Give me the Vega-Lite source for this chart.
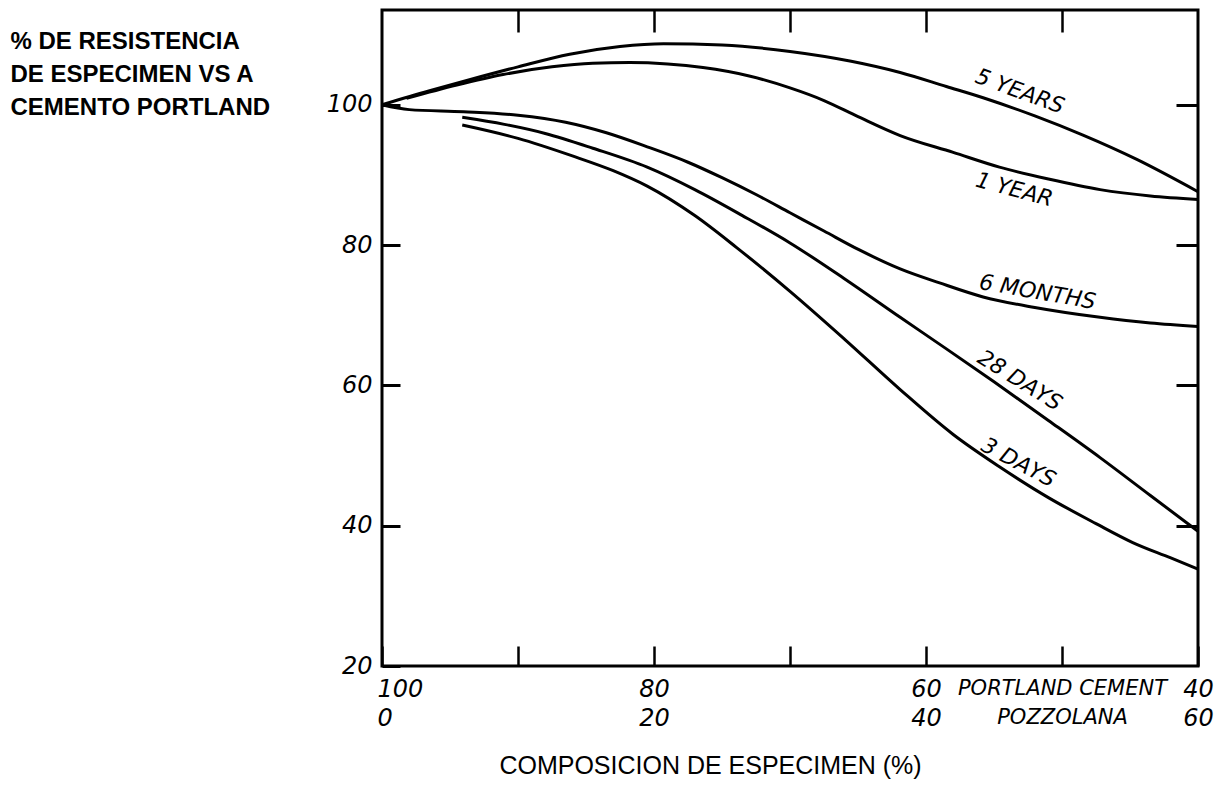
{
  "$schema": "https://vega.github.io/schema/vega-lite/v6.json",
  "width": 816,
  "height": 656,
  "autosize": "none",
  "padding": {"left": 382, "top": 10, "right": 30, "bottom": 126},
  "background": "white",
  "config": {"view": {"stroke": "black", "strokeWidth": 3}, "font": "DejaVu Sans"},
  "datasets": {
    "curves": [
      {"series": "5 YEARS", "cement": 100, "strength": 100},
      {"series": "5 YEARS", "cement": 96.5, "strength": 102.0},
      {"series": "5 YEARS", "cement": 93.5, "strength": 103.6},
      {"series": "5 YEARS", "cement": 90, "strength": 105.4},
      {"series": "5 YEARS", "cement": 86.2, "strength": 107.2},
      {"series": "5 YEARS", "cement": 82.5, "strength": 108.3},
      {"series": "5 YEARS", "cement": 79.3, "strength": 108.7},
      {"series": "5 YEARS", "cement": 75, "strength": 108.5},
      {"series": "5 YEARS", "cement": 70, "strength": 107.6},
      {"series": "5 YEARS", "cement": 65.5, "strength": 106.2},
      {"series": "5 YEARS", "cement": 61.9, "strength": 104.6},
      {"series": "5 YEARS", "cement": 58.5, "strength": 102.6},
      {"series": "5 YEARS", "cement": 55.8, "strength": 101.0},
      {"series": "5 YEARS", "cement": 52, "strength": 98.4},
      {"series": "5 YEARS", "cement": 48.5, "strength": 95.7},
      {"series": "5 YEARS", "cement": 44.5, "strength": 92.2},
      {"series": "5 YEARS", "cement": 40, "strength": 87.6},
      {"series": "1 YEAR", "cement": 98.2, "strength": 100.9},
      {"series": "1 YEAR", "cement": 94.5, "strength": 102.8},
      {"series": "1 YEAR", "cement": 91.1, "strength": 104.3},
      {"series": "1 YEAR", "cement": 87.5, "strength": 105.4},
      {"series": "1 YEAR", "cement": 84.5, "strength": 105.9},
      {"series": "1 YEAR", "cement": 81.8, "strength": 106.0},
      {"series": "1 YEAR", "cement": 79, "strength": 105.8},
      {"series": "1 YEAR", "cement": 76.4, "strength": 105.3},
      {"series": "1 YEAR", "cement": 73, "strength": 104.1},
      {"series": "1 YEAR", "cement": 70, "strength": 102.4},
      {"series": "1 YEAR", "cement": 67.5, "strength": 100.6},
      {"series": "1 YEAR", "cement": 65, "strength": 98.3},
      {"series": "1 YEAR", "cement": 61.9, "strength": 95.6},
      {"series": "1 YEAR", "cement": 58, "strength": 93.2},
      {"series": "1 YEAR", "cement": 54.6, "strength": 91.1},
      {"series": "1 YEAR", "cement": 51, "strength": 89.4},
      {"series": "1 YEAR", "cement": 47.2, "strength": 87.9},
      {"series": "1 YEAR", "cement": 43.5, "strength": 87.0},
      {"series": "1 YEAR", "cement": 40, "strength": 86.5},
      {"series": "6 MONTHS", "cement": 100, "strength": 100},
      {"series": "6 MONTHS", "cement": 98, "strength": 99.3},
      {"series": "6 MONTHS", "cement": 94, "strength": 99.0},
      {"series": "6 MONTHS", "cement": 90, "strength": 98.5},
      {"series": "6 MONTHS", "cement": 86.5, "strength": 97.5},
      {"series": "6 MONTHS", "cement": 83.5, "strength": 96.0},
      {"series": "6 MONTHS", "cement": 80.5, "strength": 94.0},
      {"series": "6 MONTHS", "cement": 77.5, "strength": 91.8},
      {"series": "6 MONTHS", "cement": 75, "strength": 89.6},
      {"series": "6 MONTHS", "cement": 72.5, "strength": 87.2},
      {"series": "6 MONTHS", "cement": 70, "strength": 84.6},
      {"series": "6 MONTHS", "cement": 67.5, "strength": 82.0},
      {"series": "6 MONTHS", "cement": 64.9, "strength": 79.3},
      {"series": "6 MONTHS", "cement": 61.9, "strength": 76.6},
      {"series": "6 MONTHS", "cement": 59, "strength": 74.6},
      {"series": "6 MONTHS", "cement": 55.8, "strength": 72.6},
      {"series": "6 MONTHS", "cement": 52, "strength": 71.1},
      {"series": "6 MONTHS", "cement": 47.2, "strength": 69.7},
      {"series": "6 MONTHS", "cement": 43.5, "strength": 68.9},
      {"series": "6 MONTHS", "cement": 40, "strength": 68.4},
      {"series": "28 DAYS", "cement": 94.1, "strength": 98.2},
      {"series": "28 DAYS", "cement": 91, "strength": 97.2},
      {"series": "28 DAYS", "cement": 88, "strength": 95.9},
      {"series": "28 DAYS", "cement": 84.5, "strength": 93.8},
      {"series": "28 DAYS", "cement": 80.5, "strength": 91.1},
      {"series": "28 DAYS", "cement": 77, "strength": 87.9},
      {"series": "28 DAYS", "cement": 73.5, "strength": 84.2},
      {"series": "28 DAYS", "cement": 70, "strength": 80.3},
      {"series": "28 DAYS", "cement": 66, "strength": 75.2},
      {"series": "28 DAYS", "cement": 61.9, "strength": 69.7},
      {"series": "28 DAYS", "cement": 58.5, "strength": 65.2},
      {"series": "28 DAYS", "cement": 55, "strength": 60.5},
      {"series": "28 DAYS", "cement": 51, "strength": 55.0},
      {"series": "28 DAYS", "cement": 47.2, "strength": 49.7},
      {"series": "28 DAYS", "cement": 43.5, "strength": 44.3},
      {"series": "28 DAYS", "cement": 40, "strength": 39.2},
      {"series": "3 DAYS", "cement": 94.1, "strength": 97.1},
      {"series": "3 DAYS", "cement": 90, "strength": 95.2},
      {"series": "3 DAYS", "cement": 86, "strength": 92.7},
      {"series": "3 DAYS", "cement": 83, "strength": 90.6},
      {"series": "3 DAYS", "cement": 80.5, "strength": 88.4},
      {"series": "3 DAYS", "cement": 77, "strength": 84.2},
      {"series": "3 DAYS", "cement": 73.9, "strength": 79.6},
      {"series": "3 DAYS", "cement": 70, "strength": 73.4},
      {"series": "3 DAYS", "cement": 66, "strength": 66.6},
      {"series": "3 DAYS", "cement": 61.9, "strength": 59.4},
      {"series": "3 DAYS", "cement": 58, "strength": 53.0},
      {"series": "3 DAYS", "cement": 54.6, "strength": 48.4},
      {"series": "3 DAYS", "cement": 51, "strength": 44.0},
      {"series": "3 DAYS", "cement": 47.5, "strength": 40.3},
      {"series": "3 DAYS", "cement": 44.8, "strength": 37.6},
      {"series": "3 DAYS", "cement": 42, "strength": 35.4},
      {"series": "3 DAYS", "cement": 40, "strength": 33.8}
    ],
    "labels": [
      {"series": "5 YEARS", "cement": 53.1, "strength": 101.9},
      {"series": "1 YEAR", "cement": 53.5, "strength": 87.9},
      {"series": "6 MONTHS", "cement": 51.8, "strength": 73.3},
      {"series": "28 DAYS", "cement": 53.1, "strength": 60.7},
      {"series": "3 DAYS", "cement": 53.2, "strength": 49.0}
    ]
  },
  "resolve": {"axis": {"x": "independent", "y": "independent"}},
  "layer": [
    {
      "data": {"name": "curves"},
      "mark": {"type": "line", "interpolate": "monotone", "color": "black", "strokeWidth": 3},
      "encoding": {
        "x": {
          "field": "cement", "type": "quantitative",
          "scale": {"domain": [40, 100], "reverse": true, "nice": false, "zero": false},
          "axis": {
            "orient": "bottom",
            "values": [100, 90, 80, 70, 60, 50, 40],
            "domain": false, "grid": false,
            "ticks": true, "tickSize": -20, "tickWidth": 2.5, "tickColor": "black",
            "labelExpr": "datum.value == 100 ? ['100','0'] : datum.value == 80 ? ['80','20'] : datum.value == 60 ? ['60','40'] : datum.value == 50 ? ['PORTLAND CEMENT','POZZOLANA'] : datum.value == 40 ? ['40','60'] : ''",
            "labelAlign": {"condition": {"test": "datum.value == 100", "value": "left"}, "value": "center"},
            "labelOffset": {"condition": {"test": "datum.value == 100", "value": -5}, "value": 0},
            "labelFontSize": {"condition": {"test": "datum.value == 50", "value": 21}, "value": 24},
            "labelFont": "DejaVu Sans", "labelFontStyle": "italic", "labelColor": "black",
            "labelLineHeight": 29, "labelPadding": 31, "labelOverlap": false, "labelBound": false, "labelFlush": false,
            "labelLimit": 0,
            "title": "COMPOSICION DE ESPECIMEN (%)",
            "titleFont": "Liberation Sans", "titleFontSize": 25, "titleFontWeight": "normal", "titleColor": "black",
            "titleX": 328, "titleY": 99, "titleAlign": "center", "titleBaseline": "middle"
          }
        },
        "y": {
          "field": "strength", "type": "quantitative",
          "scale": {"domain": [20, 113.5], "nice": false, "zero": false},
          "axis": {
            "orient": "left",
            "values": [20, 40, 60, 80, 100],
            "domain": false, "grid": false,
            "tickSize": -18, "tickWidth": 3, "tickColor": "black",
            "labelFont": "DejaVu Sans", "labelFontStyle": "italic", "labelFontSize": 24, "labelColor": "black",
            "labelPadding": 28, "labelOverlap": false, "labelBound": false, "labelFlush": false,
            "title": ["% DE RESISTENCIA", "DE ESPECIMEN VS A", "CEMENTO PORTLAND"],
            "titleAngle": 0, "titleAlign": "left", "titleBaseline": "alphabetic",
            "titleX": -372, "titleY": 38,
            "titleFont": "Liberation Sans", "titleFontSize": 24, "titleFontWeight": "bold",
            "titleLineHeight": 33, "titleColor": "black"
          }
        },
        "detail": {"field": "series"},
        "order": {"field": "cement", "sort": "descending"}
      }
    },
    {
      "data": {"name": "labels"},
      "transform": [{"filter": "datum.series == '5 YEARS'"}],
      "mark": {"type": "text", "angle": 20, "font": "DejaVu Sans", "fontStyle": "italic", "fontSize": 22, "color": "black", "align": "center", "baseline": "middle"},
      "encoding": {
        "x": {"field": "cement", "type": "quantitative",
          "axis": {"orient": "top", "values": [90, 80, 70, 60, 50], "domain": false, "grid": false, "labels": false, "tickSize": -22, "tickWidth": 2.5, "tickColor": "black", "title": null}},
        "y": {"field": "strength", "type": "quantitative",
          "axis": {"orient": "right", "values": [100, 80, 60, 40], "domain": false, "grid": false, "labels": false, "tickSize": -22, "tickWidth": 3, "tickColor": "black", "title": null}},
        "text": {"field": "series"}
      }
    },
    {
      "data": {"name": "labels"},
      "transform": [{"filter": "datum.series == '1 YEAR'"}],
      "mark": {"type": "text", "angle": 15, "font": "DejaVu Sans", "fontStyle": "italic", "fontSize": 22, "color": "black", "align": "center", "baseline": "middle"},
      "encoding": {
        "x": {"field": "cement", "type": "quantitative", "axis": null},
        "y": {"field": "strength", "type": "quantitative", "axis": null},
        "text": {"field": "series"}
      }
    },
    {
      "data": {"name": "labels"},
      "transform": [{"filter": "datum.series == '6 MONTHS'"}],
      "mark": {"type": "text", "angle": 10, "font": "DejaVu Sans", "fontStyle": "italic", "fontSize": 22, "color": "black", "align": "center", "baseline": "middle"},
      "encoding": {
        "x": {"field": "cement", "type": "quantitative", "axis": null},
        "y": {"field": "strength", "type": "quantitative", "axis": null},
        "text": {"field": "series"}
      }
    },
    {
      "data": {"name": "labels"},
      "transform": [{"filter": "datum.series == '28 DAYS'"}],
      "mark": {"type": "text", "angle": 32, "font": "DejaVu Sans", "fontStyle": "italic", "fontSize": 22, "color": "black", "align": "center", "baseline": "middle"},
      "encoding": {
        "x": {"field": "cement", "type": "quantitative", "axis": null},
        "y": {"field": "strength", "type": "quantitative", "axis": null},
        "text": {"field": "series"}
      }
    },
    {
      "data": {"name": "labels"},
      "transform": [{"filter": "datum.series == '3 DAYS'"}],
      "mark": {"type": "text", "angle": 28, "font": "DejaVu Sans", "fontStyle": "italic", "fontSize": 22, "color": "black", "align": "center", "baseline": "middle"},
      "encoding": {
        "x": {"field": "cement", "type": "quantitative", "axis": null},
        "y": {"field": "strength", "type": "quantitative", "axis": null},
        "text": {"field": "series"}
      }
    }
  ]
}
